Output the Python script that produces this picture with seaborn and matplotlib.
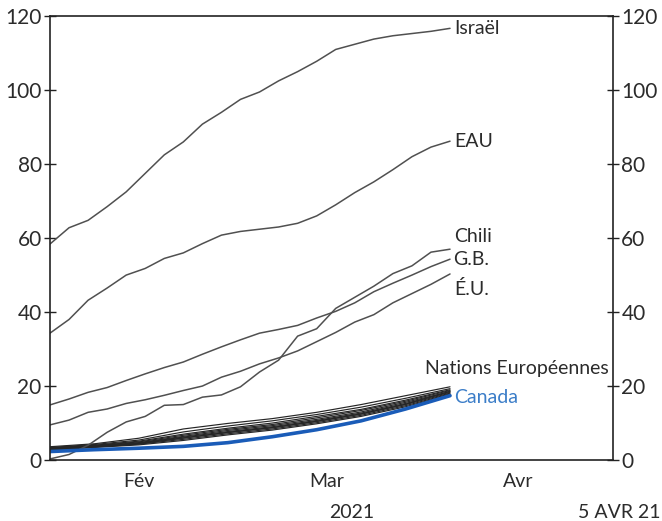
import pandas as pd
import matplotlib
matplotlib.use("Agg")
import matplotlib.pyplot as plt
import seaborn as sns

# doses per 100 people
start = pd.Timestamp("2021-02-01")
days_main = list(range(0, 64, 3))   # every 3 days, Feb 1 -> Apr 5
days_eu = list(range(0, 64, 7))     # weekly for the European cluster / Canada

israel = [58.4, 62.8, 64.8, 68.5, 72.5, 77.5, 82.5, 86.0, 90.8, 94.0, 97.5,
          99.5, 102.5, 105.0, 107.8, 111.0, 112.4, 113.8, 114.7, 115.3, 115.9, 116.7]
eau = [34.3, 38.0, 43.2, 46.5, 50.0, 51.8, 54.5, 56.0, 58.5, 60.8, 61.8,
       62.4, 63.0, 64.0, 66.0, 69.0, 72.3, 75.2, 78.5, 82.0, 84.6, 86.2]
chili = [0.3, 1.5, 4.0, 7.5, 10.3, 11.8, 14.8, 15.0, 17.0, 17.6, 19.8,
         23.8, 27.0, 33.5, 35.5, 41.0, 44.0, 47.0, 50.4, 52.5, 56.2, 57.0]
gb = [14.9, 16.5, 18.3, 19.6, 21.5, 23.3, 25.0, 26.5, 28.6, 30.6, 32.5,
      34.3, 35.3, 36.4, 38.4, 40.2, 42.5, 45.5, 47.8, 50.0, 52.3, 54.3]
eu = [9.5, 10.8, 12.9, 13.8, 15.3, 16.3, 17.5, 18.8, 20.0, 22.4, 24.0,
      26.0, 27.6, 29.5, 32.0, 34.5, 37.3, 39.3, 42.5, 45.0, 47.5, 50.3]

europe = {
    "Allemagne": [3.6, 4.4, 5.9, 8.4, 9.9, 11.2, 12.9, 15.0, 17.4, 19.8],
    "France": [3.4, 4.2, 5.4, 7.6, 9.2, 10.6, 12.3, 14.3, 16.7, 19.3],
    "Italie": [3.3, 4.0, 5.1, 7.0, 8.6, 10.0, 11.8, 13.7, 16.2, 19.0],
    "Espagne": [3.2, 3.9, 4.9, 6.7, 8.3, 9.6, 11.4, 13.4, 15.9, 18.8],
    "Pays-Bas": [3.1, 3.8, 4.7, 6.4, 8.0, 9.3, 11.0, 13.0, 15.6, 18.5],
    "Belgique": [3.0, 3.7, 4.6, 6.2, 7.7, 9.0, 10.7, 12.7, 15.3, 18.3],
    "Suède": [2.9, 3.6, 4.4, 5.9, 7.4, 8.7, 10.4, 12.4, 15.0, 18.1],
    "Autriche": [2.8, 3.5, 4.3, 5.6, 7.1, 8.4, 10.1, 12.1, 14.7, 17.9],
    "Portugal": [2.7, 3.4, 4.1, 5.3, 6.8, 8.1, 9.8, 11.8, 14.4, 17.7],
    "Irlande": [2.8, 3.6, 4.5, 6.0, 7.5, 8.8, 10.5, 12.5, 15.1, 18.6],
}
canada = [2.3, 2.8, 3.2, 3.7, 4.7, 6.3, 8.2, 10.6, 13.8, 17.4]

dates_main = [start + pd.Timedelta(days=d) for d in days_main]
dates_eu = [start + pd.Timedelta(days=d) for d in days_eu]

sns.set_style("white")
plt.rcParams["font.family"] = ["Lato", "DejaVu Sans"]

fig, ax = plt.subplots(figsize=(6.62, 5.21), dpi=100)
fig.subplots_adjust(left=0.0755, right=0.926, bottom=0.117, top=0.969)

grey = "#505050"
blue = "#1a5cb8"

for vals in europe.values():
    sns.lineplot(x=dates_eu, y=vals, ax=ax, color="#262626", lw=0.85)
for vals in [israel, eau, chili, gb, eu]:
    sns.lineplot(x=dates_main, y=vals, ax=ax, color=grey, lw=1.1)
sns.lineplot(x=dates_eu, y=canada, ax=ax, color=blue, lw=2.6)

# end-of-line labels
end = dates_main[-1]
fs = 14
txt = "#2b2b2b"
lab = dict(textcoords="offset points", va="center", ha="left", fontsize=fs, color=txt)
ax.annotate("Israël", (end, israel[-1]), xytext=(3, 0), **lab)
ax.annotate("EAU", (end, eau[-1]), xytext=(3, 0), **lab)
ax.annotate("Chili", (end, chili[-1]), xytext=(3, 9), **lab)
ax.annotate("G.B.", (end, gb[-1]), xytext=(2, 0), **lab)
ax.annotate("É.U.", (end, eu[-1]), xytext=(3, -11), **lab)
ax.annotate("Nations Européennes", (end, europe["Allemagne"][-1]), xytext=(-18, 13), **lab)
ax.annotate("Canada", (end, canada[-1]), xytext=(3, -1), textcoords="offset points",
            va="center", ha="left", fontsize=fs, color="#3b7dc8")

ax.set_xlim(start, pd.Timestamp("2021-04-30 16:00"))
ax.set_ylim(0, 120)
ax.set_yticks(range(0, 121, 20))
ax.set_xticks([pd.Timestamp("2021-03-01"), pd.Timestamp("2021-04-01")])
ax.set_xticklabels([])
ax.set_xticks([pd.Timestamp("2021-02-15"), pd.Timestamp("2021-03-16 12:00"),
               pd.Timestamp("2021-04-15 18:00")], minor=True)
ax.set_xticklabels(["Fév", "Mar", "Avr"], minor=True)
ax.tick_params(axis="x", which="major", direction="inout", length=8, width=1, color="#222")
ax.tick_params(axis="x", which="minor", length=0, labelsize=fs, labelcolor=txt, pad=9)
ax.tick_params(axis="y", direction="inout", length=8, width=1, color="#222",
               left=True, right=True, labelleft=True, labelright=True,
               labelsize=fs + 1, labelcolor=txt, pad=2)
ax.set_xlabel("")
ax.set_ylabel("")
for s in ax.spines.values():
    s.set_color("#222")
    s.set_linewidth(1.2)

fig.text(352 / 662, 1 - 513 / 521, "2021", ha="center", va="center", fontsize=fs, color=txt)
fig.text(660 / 662, 1 - 513 / 521, "5 AVR 21", ha="right", va="center", fontsize=fs, color=txt)

fig.savefig("out.png", dpi=100)
